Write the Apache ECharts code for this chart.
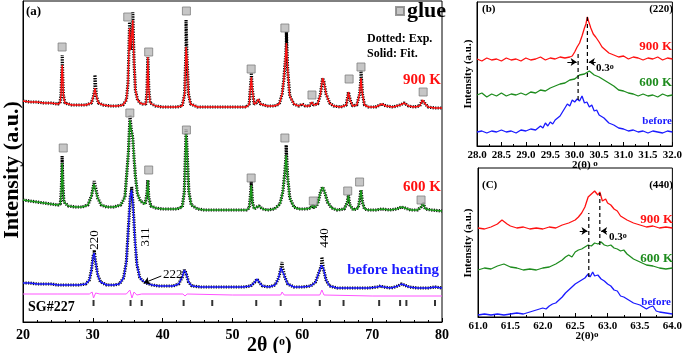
<!DOCTYPE html>
<html>
<head>
<meta charset="utf-8">
<script src="https://cdn.jsdelivr.net/npm/echarts@6/dist/echarts.min.js"></script>
<style>
html,body{margin:0;padding:0;background:#fff;}
#chart{width:685px;height:353px;}
</style>
</head>
<body>
<div id="chart"></div>
<script>
// ---- panel (a): full patterns, intensity in arbitrary units (offset stacked) ----
var fit900 = [[20,221],[21,220],[22,220],[23,219],[24,219],[25,218],[25.3,219],[25.45,228],[25.55,250],[25.62,257],[25.7,245],[25.8,226],[26,219],[27,217],[28,217],[29,217],[29.8,219],[30.1,226],[30.3,234],[30.5,226],[30.8,219],[31.5,217],[32.5,216],[33.5,216],[34.3,217],[34.8,222],[35.05,240],[35.25,294],[35.4,272],[35.55,285],[35.72,302],[35.9,260],[36.1,232],[36.4,222],[36.8,219],[37.1,218],[37.35,220],[37.6,218],[37.75,230],[37.88,265],[38.0,235],[38.2,219],[39,216],[40,215],[41,215],[42,215],[42.8,216],[43.15,228],[43.35,275],[43.5,262],[43.7,228],[44.0,218],[45,215],[46,215],[47,215],[48,215],[49,215],[50,215],[51,215],[52,215],[52.4,218],[52.6,238],[52.7,245],[52.85,232],[53.1,218],[53.4,219],[53.7,223],[54.0,218],[55,216],[56,216],[56.7,218],[57.1,228],[57.35,242],[57.6,266],[57.72,279],[57.9,252],[58.2,226],[58.8,218],[59.5,216],[60,218],[60.4,216],[61,216],[61.35,220],[61.6,217],[62.2,218],[62.6,228],[62.9,244],[63.1,240],[63.4,228],[63.9,219],[64.5,216],[65.5,215],[66.3,217],[66.6,230],[66.7,232],[66.85,222],[67.2,216],[67.8,217],[68.2,228],[68.4,244],[68.6,228],[68.9,217],[69.5,215],[70.5,215],[71.4,218],[72,216],[73,215],[74,217],[74.6,219],[75.2,216],[76,215],[76.8,216],[77.2,222],[77.5,219],[78,215],[79,214],[80,214]];
var top900 = [[25.62,267],[30.3,247],[35.25,300],[35.72,310],[43.35,302],[57.72,290],[68.4,252],[52.7,249]];

var fit600 = [[20,122],[21,121],[22,120],[23,119],[24,118],[25,117],[25.35,118],[25.5,135],[25.6,159],[25.7,140],[25.85,120],[26.5,116],[27.5,115],[28.5,115],[29.3,117],[29.8,126],[30.15,138],[30.35,136],[30.7,124],[31.2,117],[32,115],[33,115],[34,117],[34.6,125],[35.1,170],[35.3,202],[35.5,192],[35.7,185],[35.9,165],[36.1,145],[36.4,128],[36.8,121],[37.2,119],[37.5,118],[37.75,128],[37.88,142],[38.0,125],[38.3,116],[39,114],[40,113],[41,113],[42,113],[42.8,115],[43.1,130],[43.35,189],[43.5,170],[43.75,130],[44.1,117],[45,113],[46,112],[47,112],[48,112],[49,112],[50,112],[51,112],[52,112],[52.4,114],[52.55,125],[52.68,137],[52.85,120],[53.1,113],[53.5,115],[53.8,116],[54.3,113],[55,112],[56,113],[56.8,118],[57.2,130],[57.5,150],[57.68,167],[57.9,145],[58.2,124],[58.8,115],[59.5,113],[60.5,113],[61.2,114],[61.45,117],[61.7,114],[62.2,118],[62.6,130],[62.9,135],[63.2,130],[63.6,120],[64.2,114],[65,112],[66,113],[66.45,120],[66.6,127],[66.8,117],[67.3,112],[68,114],[68.25,124],[68.4,132],[68.6,120],[68.9,113],[69.5,112],[70.5,112],[71.4,113],[72.5,112],[73.5,113],[74.2,115],[74.7,114],[75.5,112],[76.5,112],[77.0,115],[77.3,119],[77.6,113],[78.5,112],[80,111]];
var top600 = [[25.6,166],[35.3,207],[43.35,193],[57.68,177],[52.68,141],[30.2,141]];

var fitBefore = [[20,39],[21,39],[22,38],[23,38],[24,38],[25,37],[26,37],[27,37],[28,37],[29,38],[29.5,42],[29.8,52],[30.05,66],[30.2,69],[30.4,60],[30.7,47],[31.1,40],[32,37],[33,37],[33.8,38],[34.4,44],[34.8,60],[35.1,95],[35.35,125],[35.55,132],[35.75,118],[36.0,85],[36.3,58],[36.7,45],[37.0,42],[37.2,42],[37.6,39],[38.5,37],[39.5,36],[40.5,36],[41.5,36],[42.3,38],[42.8,45],[43.1,52],[43.35,49],[43.7,40],[44.2,36],[45.5,35],[47,35],[48.5,35],[50,35],[51.5,35],[52.6,36],[53.2,40],[53.5,43],[53.8,40],[54.3,36],[55.2,35],[56.1,37],[56.6,44],[56.95,54],[57.15,55],[57.5,45],[57.9,38],[58.8,35],[60,35],[61.2,36],[61.9,40],[62.4,50],[62.75,57],[63.0,54],[63.4,42],[63.9,36],[65,34],[66.5,34],[68,34],[69.5,34],[70.7,35],[71.2,36],[71.6,35],[72.7,34],[73.7,36],[74.2,38],[74.6,37],[75.3,35],[76.5,34],[78,34],[79,35],[80,34]];
var topBefore = [[30.2,72],[35.55,135],[57.1,60],[62.8,65],[43.15,54]];

var diffCurve = [[20,28],[25,28],[29.5,28],[29.9,30],[30.1,24],[30.4,29],[31,28],[34.8,28],[35.3,32],[35.6,24],[35.9,30],[36.3,27],[37,28],[42.9,28],[43.2,26],[43.5,28],[50,27],[56.9,27],[57.1,30],[57.4,27],[62.5,27],[62.8,32],[63.1,27],[70,26],[80,26]];

var sgPositions = [30.1,35.4,37.0,43.0,47.1,53.4,56.9,62.5,65.9,71.0,74.0,74.9,79.0];

var glue900 = [[25.6,275],[35.0,305],[38.0,270],[43.4,311],[52.67,253],[57.5,294],[61.38,227],[66.7,243],[68.4,255],[77.3,230]];
var glue600 = [[25.76,174],[35.3,209],[38.0,152],[43.4,192],[52.67,144],[57.5,184],[61.57,121],[66.5,131],[68.2,140],[77.0,122]];

// ---- panel (b): (220) reflection ----
var b900 = [[28.0,87],[28.1,85],[28.2,88],[28.3,86],[28.4,87],[28.5,85],[28.6,88],[28.7,86],[28.8,87],[28.9,85],[29.0,88],[29.1,86],[29.2,87],[29.3,89],[29.4,86],[29.5,88],[29.6,87],[29.7,89],[29.8,88],[29.9,89],[29.95,90],[30.0,94],[30.05,99],[30.1,103],[30.15,110],[30.2,118],[30.23,122],[30.26,129],[30.29,124],[30.33,118],[30.38,112],[30.43,109],[30.5,104],[30.56,99],[30.63,96],[30.7,93],[30.8,91],[30.9,89],[31.0,90],[31.1,87],[31.2,89],[31.3,88],[31.4,86],[31.5,88],[31.6,87],[31.7,89],[31.8,86],[31.9,88],[32.0,87]];
var b600 = [[28.0,51],[28.1,53],[28.2,49],[28.3,52],[28.4,50],[28.5,53],[28.6,50],[28.7,52],[28.8,51],[28.9,53],[29.0,51],[29.1,54],[29.2,53],[29.3,56],[29.4,55],[29.5,58],[29.6,60],[29.7,62],[29.8,63],[29.9,66],[30.0,67],[30.1,71],[30.2,72],[30.3,75],[30.35,73],[30.4,71],[30.5,69],[30.6,66],[30.7,63],[30.8,60],[30.9,56],[31.0,55],[31.1,53],[31.2,52],[31.3,50],[31.4,52],[31.5,50],[31.6,51],[31.7,49],[31.8,52],[31.9,50],[32.0,51]];
var bBefore = [[28.0,14],[28.1,15],[28.2,13],[28.3,15],[28.4,14],[28.5,16],[28.6,14],[28.7,15],[28.8,13],[28.9,16],[29.0,15],[29.1,17],[29.2,16],[29.3,20],[29.35,18],[29.4,23],[29.45,20],[29.5,24],[29.55,22],[29.6,26],[29.7,30],[29.75,34],[29.8,38],[29.85,42],[29.9,40],[29.95,46],[30.0,44],[30.05,47],[30.1,45],[30.15,50],[30.2,43],[30.25,44],[30.3,39],[30.35,41],[30.4,35],[30.45,36],[30.5,31],[30.6,28],[30.7,23],[30.8,21],[30.9,18],[31.0,17],[31.1,15],[31.2,16],[31.3,14],[31.4,15],[31.5,13],[31.6,15],[31.7,14],[31.8,13],[31.9,15],[32.0,14]];
var bShiftLines = [[[30.07,46],[30.07,94]],[[30.26,69],[30.26,129]]];
var bArrows = [[[29.85,84],[30.04,84]],[[30.43,84],[30.29,84]]];

// ---- panel (c): (440) reflection ----
var c900 = [[61.0,89],[61.1,88],[61.2,90],[61.3,93],[61.37,97],[61.45,93],[61.5,91],[61.6,89],[61.7,90],[61.8,88],[61.9,89],[62.0,88],[62.1,90],[62.2,89],[62.3,92],[62.4,94],[62.5,97],[62.55,100],[62.6,104],[62.65,110],[62.7,120],[62.75,123],[62.8,126],[62.85,122],[62.88,125],[62.92,116],[62.97,118],[63.0,114],[63.05,112],[63.1,108],[63.15,106],[63.2,101],[63.3,97],[63.4,94],[63.5,92],[63.6,90],[63.7,91],[63.8,89],[63.9,90],[64.0,89]];
var c600 = [[61.0,47],[61.1,49],[61.2,48],[61.3,51],[61.4,53],[61.5,50],[61.6,49],[61.7,47],[61.8,48],[61.9,47],[62.0,49],[62.1,50],[62.2,53],[62.3,57],[62.35,60],[62.4,62],[62.45,60],[62.5,65],[62.55,67],[62.6,68],[62.65,70],[62.7,72],[62.75,71],[62.8,74],[62.85,73],[62.9,75],[62.95,72],[63.0,71],[63.05,72],[63.1,69],[63.15,68],[63.2,66],[63.25,67],[63.3,63],[63.4,58],[63.5,55],[63.6,52],[63.7,51],[63.8,49],[63.9,48],[64.0,49]];
var cBefore = [[61.0,2],[61.1,3],[61.2,2],[61.3,3],[61.4,2],[61.5,3],[61.6,4],[61.7,3],[61.8,5],[61.9,7],[62.0,9],[62.05,8],[62.1,11],[62.15,13],[62.2,14],[62.25,17],[62.3,20],[62.35,24],[62.4,27],[62.45,30],[62.5,33],[62.55,35],[62.6,37],[62.65,39],[62.7,43],[62.73,40],[62.77,45],[62.8,41],[62.85,42],[62.9,38],[62.95,36],[63.0,33],[63.05,31],[63.1,27],[63.15,26],[63.2,21],[63.25,20],[63.3,18],[63.4,14],[63.5,12],[63.6,8],[63.65,10],[63.7,11],[63.75,6],[63.8,5],[63.9,4],[64.0,3]];
var cShiftLines = [[[62.71,40],[62.71,104]],[[62.88,72],[62.88,124]]];
var cArrows = [[[62.57,86],[62.69,86]],[[62.99,86],[62.9,86]]];

var serif = 'Liberation Serif';
var RED = '#ff1111', GREEN = '#1e8c1e', BLUE = '#1a1aff';

function withTops(fit, tops) {
  return fit.concat(tops).sort(function (a, b) { return a[0] - b[0]; });
}

var chart = echarts.init(document.getElementById('chart'));

function xAx(grid, min, max, interval, fs, margin) {
  return {
    gridIndex: grid, type: 'value', min: min, max: max, interval: interval,
    axisLine: {lineStyle: {color: '#000', width: 1}},
    axisTick: {inside: true, length: 4, lineStyle: {color: '#000'}},
    minorTick: {show: true, splitNumber: grid === 0 ? 5 : 2, length: 2, lineStyle: {color: '#000'}},
    splitLine: {show: false},
    axisLabel: {color: '#000', fontFamily: serif, fontWeight: 'bold', fontSize: fs, margin: margin,
      formatter: function (v) { return grid === 0 ? v : v.toFixed(1); }}
  };
}
function yAx(grid, max) {
  return {
    gridIndex: grid, type: 'value', min: 0, max: max,
    axisLine: {show: true, lineStyle: {color: '#000'}},
    axisTick: {show: false}, axisLabel: {show: false}, splitLine: {show: false}
  };
}
function line(grid, data, color, width, z, dash) {
  return {type: 'line', xAxisIndex: grid, yAxisIndex: grid, data: data, showSymbol: false, symbol: 'none',
    lineStyle: {color: color, width: width, type: dash || 'solid'}, z: z || 2, silent: true};
}
function glue(data, name) {
  return {type: 'scatter', name: name, xAxisIndex: 0, yAxisIndex: 0, data: data, symbol: 'rect', symbolSize: 8,
    itemStyle: {color: '#b8b8b8', borderColor: '#808080', borderWidth: 1}, z: 5};
}
function dashed(grid, segs) {
  return segs.map(function (s) {
    return {type: 'line', xAxisIndex: grid, yAxisIndex: grid, data: s, symbol: 'none',
      lineStyle: {color: '#000', width: 1.2, type: [4, 3]}, z: 6};
  });
}
function arrows(grid, segs) {
  return {type: 'line', xAxisIndex: grid, yAxisIndex: grid, data: [], symbol: 'none',
    markLine: {silent: true, symbol: ['none', 'arrow'], symbolSize: 6, label: {show: false},
      lineStyle: {color: '#000', width: 1, type: 'solid'},
      data: segs.map(function (s) { return [{coord: s[0]}, {coord: s[1]}]; })}};
}

var EXPDASH = [1.2, 1.3];
var series = [
  line(0, withTops(fit900, top900), '#000', 3.2, 2, EXPDASH),
  line(0, fit900, RED, 1.4, 3),
  line(0, withTops(fit600, top600), '#000', 3.2, 2, EXPDASH),
  line(0, fit600, '#1a9a1a', 1.4, 3),
  line(0, withTops(fitBefore, topBefore), '#000', 3.2, 2, EXPDASH),
  line(0, fitBefore, BLUE, 1.4, 3),
  line(0, diffCurve, '#ff55ff', 1, 3),
  {type: 'scatter', xAxisIndex: 0, yAxisIndex: 0, symbol: 'rect', symbolSize: [2, 6],
    data: sgPositions.map(function (x) { return [x, 19]; }), itemStyle: {color: '#000'}},
  glue(glue900, 'g900'),
  glue(glue600, 'g600'),
  glue([], 'glue'),
  {type: 'line', xAxisIndex: 0, yAxisIndex: 0, data: [], markLine: {silent: true, symbol: ['none', 'arrow'], symbolSize: 6,
    label: {show: false}, lineStyle: {color: '#000', width: 1, type: 'solid'},
    data: [[{coord: [39.8, 46]}, {coord: [37.3, 39]}]]}},
  line(1, b900, RED, 1.3),
  line(1, b600, GREEN, 1.3),
  line(1, bBefore, BLUE, 1.3),
  line(2, c900, RED, 1.3),
  line(2, c600, GREEN, 1.3),
  line(2, cBefore, BLUE, 1.3),
  arrows(1, bArrows),
  arrows(2, cArrows)
].concat(dashed(1, bShiftLines), dashed(2, cShiftLines));

function txt(x, y, text, opt) {
  opt = opt || {};
  return {type: 'text', x: x, y: y, rotation: opt.rot || 0, silent: true, z: 20,
    style: {text: text, fill: opt.color || '#000', fontFamily: serif, fontWeight: opt.weight || 'bold',
      fontSize: opt.size || 12, align: opt.align || 'left', verticalAlign: 'middle', rich: opt.rich}};
}
var sup = function (fs) { return {s: {fontSize: fs, fontFamily: serif, fontWeight: 'bold', verticalAlign: 'top'}}; };

chart.setOption({
  animation: false,
  backgroundColor: '#fff',
  grid: [
    {left: 23, top: 1, width: 419, height: 321, show: true, borderColor: '#000', borderWidth: 1},
    {left: 477, top: 2, width: 197, height: 144, show: true, borderColor: '#000', borderWidth: 1},
    {left: 478, top: 168, width: 197, height: 149, show: true, borderColor: '#000', borderWidth: 1}
  ],
  xAxis: [xAx(0, 20, 80, 10, 14, 6), xAx(1, 28, 32, 0.5, 11, 4), xAx(2, 61, 64, 0.5, 11, 4)],
  yAxis: [yAx(0, 321), yAx(1, 144), yAx(2, 149)],
  legend: {data: [{name: 'glue', icon: 'rect'}], left: 395, top: 0, itemWidth: 8, itemHeight: 8, itemGap: 4,
    padding: 0, selectedMode: false,
    textStyle: {fontFamily: serif, fontWeight: 'bold', fontSize: 22, color: '#000', padding: [0, 0, 0, -2]}},
  series: series,
  graphic: [
    txt(12, 170, 'Intensity (a.u.)', {size: 22, rot: Math.PI / 2, align: 'center'}),
    txt(26, 12, '(a)', {size: 13}),
    txt(367, 39, 'Dotted: Exp.', {size: 12}),
    txt(367, 54, 'Solid: Fit.', {size: 12}),
    txt(441, 80, '900 K', {size: 15, color: RED, align: 'right'}),
    txt(441, 187, '600 K', {size: 15, color: RED, align: 'right'}),
    txt(439, 270, 'before heating', {size: 15, color: BLUE, align: 'right'}),
    txt(95, 240, '220', {size: 13, weight: 'normal', rot: Math.PI / 2, align: 'center'}),
    txt(146, 237, '311', {size: 13, weight: 'normal', rot: Math.PI / 2, align: 'center'}),
    txt(325, 238, '440', {size: 13, weight: 'normal', rot: Math.PI / 2, align: 'center'}),
    txt(163, 275, '222', {size: 13, weight: 'normal'}),
    txt(28, 307, 'SG#227', {size: 14}),
    txt(247, 346, '2θ ({s|o})', {size: 20, rich: sup(12)}),
    txt(482, 9, '(b)', {size: 11}),
    txt(673, 9, '(220)', {size: 11, align: 'right'}),
    txt(672, 47, '900 K', {size: 13, color: RED, align: 'right'}),
    txt(672, 83, '600 K', {size: 13, color: GREEN, align: 'right'}),
    txt(672, 121, 'before', {size: 11, color: BLUE, align: 'right'}),
    txt(596, 68, '0.3{s|o}', {size: 11, rich: sup(8)}),
    txt(468, 74, 'Intensity (a.u.)', {size: 11, rot: Math.PI / 2, align: 'center'}),
    txt(572, 165, '2(θ) {s|o}', {size: 11, rich: sup(9)}),
    txt(482, 185, '(C)', {size: 11}),
    txt(673, 185, '(440)', {size: 11, align: 'right'}),
    txt(673, 220, '900 K', {size: 13, color: RED, align: 'right'}),
    txt(673, 259, '600 K', {size: 13, color: GREEN, align: 'right'}),
    txt(671, 302, 'before', {size: 11, color: BLUE, align: 'right'}),
    txt(609, 237, '0.3{s|o}', {size: 11, rich: sup(8)}),
    txt(468, 243, 'Intensity (a.u.)', {size: 11, rot: Math.PI / 2, align: 'center'}),
    txt(587, 336, '2(θ){s|o}', {size: 11, rich: sup(9), align: 'center'})
  ]
});
</script>
</body>
</html>
